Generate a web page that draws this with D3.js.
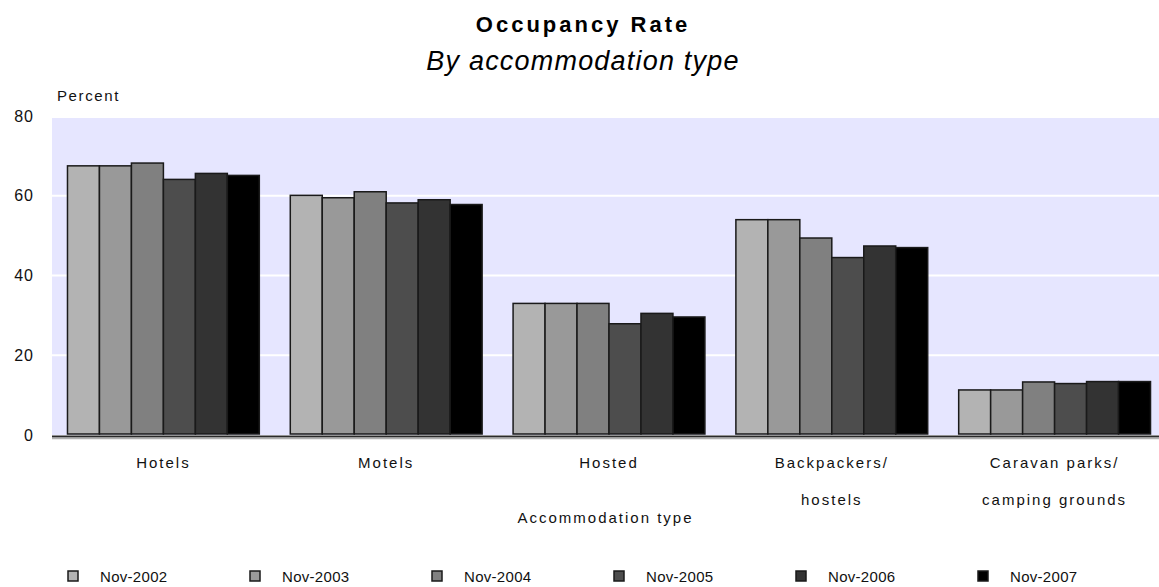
<!DOCTYPE html>
<html>
<head>
<meta charset="utf-8">
<script src="https://cdn.jsdelivr.net/npm/d3@7"></script>
<style>
  body { margin: 0; background: #fff; }
  svg { display: block; font-family: Arial, "Liberation Sans", sans-serif; }
</style>
</head>
<body>
<div id="chart"></div>
<script>
// categories and series
const categories = ['Hotels', 'Motels', 'Hosted', 'Backpackers/\nhostels', 'Caravan parks/\ncamping grounds'];
const seriesNames = ['Nov-2002', 'Nov-2003', 'Nov-2004', 'Nov-2005', 'Nov-2006', 'Nov-2007'];
const nov2002 = [67.5, 60.1, 33.0, 54.0, 11.3];
const nov2003 = [67.5, 59.5, 33.0, 54.0, 11.3];
const nov2004 = [68.2, 61.0, 33.0, 49.4, 13.3];
const nov2005 = [64.1, 58.2, 27.9, 44.5, 12.9];
const nov2006 = [65.6, 59.0, 30.5, 47.4, 13.4];
const nov2007 = [65.1, 57.8, 29.6, 47.0, 13.4];
const yTicks = [0, 20, 40, 60, 80];

const seriesValues = [nov2002, nov2003, nov2004, nov2005, nov2006, nov2007];
const colors = ['#b3b3b3', '#999999', '#808080', '#4d4d4d', '#333333', '#000000'];

const W = 1159, H = 587;
const plot = {left: 52, right: 1159, top: 116, bottom: 435};

const svg = d3.select('#chart').append('svg')
  .attr('width', W)
  .attr('height', H);

// scales
const x0 = d3.scaleBand()
  .domain(categories)
  .range([plot.left, 1166])
  .paddingInner(0.139)
  .paddingOuter(0.0695);

const x1 = d3.scaleBand()
  .domain(seriesNames)
  .range([0, x0.bandwidth()]);

const y = d3.scaleLinear()
  .domain([0, 80])
  .range([plot.bottom, plot.top]);

// plot background
svg.append('rect')
  .attr('x', plot.left)
  .attr('y', y(80) + 2)
  .attr('width', plot.right - plot.left)
  .attr('height', y(0) - y(80) - 2)
  .attr('fill', '#e6e6ff');

// gridlines
svg.append('g')
  .selectAll('line')
  .data(yTicks.filter(d => d > 0 && d < 80))
  .join('line')
  .attr('x1', plot.left)
  .attr('x2', plot.right)
  .attr('y1', d => y(d))
  .attr('y2', d => y(d))
  .attr('stroke', '#ffffff')
  .attr('stroke-width', 2);

// y axis labels
const yAxis = svg.append('g')
  .attr('transform', 'translate(' + (plot.left - 18) + ',0)')
  .call(d3.axisLeft(y).tickValues(yTicks).tickSize(0).tickPadding(0));
yAxis.select('.domain').remove();
yAxis.selectAll('text')
  .attr('font-size', 16)
  .attr('letter-spacing', 1)
  .attr('fill', '#111')
  .attr('font-family', 'Arial, "Liberation Sans", sans-serif');

svg.append('text')
  .attr('x', 57)
  .attr('y', 101)
  .attr('font-size', 15)
  .attr('letter-spacing', 1.6)
  .attr('fill', '#111')
  .text('Percent');

// bars
const groups = svg.append('g')
  .selectAll('g')
  .data(categories)
  .join('g')
  .attr('transform', d => 'translate(' + x0(d) + ',0)');

groups.selectAll('rect')
  .data((d, i) => seriesNames.map((s, j) => ({series: s, value: seriesValues[j][i], color: colors[j]})))
  .join('rect')
  .attr('x', d => x1(d.series))
  .attr('y', d => y(d.value))
  .attr('width', x1.bandwidth())
  .attr('height', d => y(0) - y(d.value) - 1)
  .attr('fill', d => d.color)
  .attr('stroke', '#1a1a1a')
  .attr('stroke-width', 1.5);

// x axis line
svg.append('line')
  .attr('x1', plot.left).attr('x2', plot.right)
  .attr('y1', plot.bottom + 1.5).attr('y2', plot.bottom + 1.5)
  .attr('stroke', '#2a2a2a').attr('stroke-width', 2);
svg.append('line')
  .attr('x1', plot.left).attr('x2', plot.right)
  .attr('y1', plot.bottom + 3.5).attr('y2', plot.bottom + 3.5)
  .attr('stroke', '#b0b0b0').attr('stroke-width', 1.5);

// category labels
const catLabels = svg.append('g')
  .selectAll('text')
  .data(categories)
  .join('text')
  .attr('x', d => x0(d) + x0.bandwidth() / 2)
  .attr('y', 468)
  .attr('text-anchor', 'middle')
  .attr('font-size', 15)
  .attr('letter-spacing', 2)
  .attr('fill', '#111');
catLabels.selectAll('tspan')
  .data(d => d.split('\n'))
  .join('tspan')
  .attr('x', function() { return d3.select(this.parentNode).attr('x'); })
  .attr('dy', (d, i) => i === 0 ? 0 : 37)
  .text(d => d);

svg.append('text')
  .attr('x', (plot.left + plot.right) / 2)
  .attr('y', 523)
  .attr('text-anchor', 'middle')
  .attr('font-size', 15)
  .attr('letter-spacing', 2)
  .attr('fill', '#111')
  .text('Accommodation type');

// titles
svg.append('text')
  .attr('x', 583)
  .attr('y', 32)
  .attr('text-anchor', 'middle')
  .attr('font-size', 22)
  .attr('font-weight', 'bold')
  .attr('letter-spacing', 3)
  .attr('fill', '#000')
  .text('Occupancy Rate');

svg.append('text')
  .attr('x', 583)
  .attr('y', 70)
  .attr('text-anchor', 'middle')
  .attr('font-size', 27)
  .attr('font-style', 'italic')
  .attr('letter-spacing', 1.2)
  .attr('fill', '#000')
  .text('By accommodation type');

// legend
const legend = svg.append('g')
  .selectAll('g')
  .data(seriesNames)
  .join('g')
  .attr('transform', (d, i) => 'translate(' + (68 + i * 182) + ',571)');

legend.append('rect')
  .attr('width', 10)
  .attr('height', 10)
  .attr('fill', (d, i) => colors[i])
  .attr('stroke', '#1a1a1a')
  .attr('stroke-width', 1.5);

legend.append('text')
  .attr('x', 32)
  .attr('y', 11)
  .attr('font-size', 15)
  .attr('letter-spacing', 0.3)
  .attr('fill', '#111')
  .text(d => d);
</script>
</body>
</html>
